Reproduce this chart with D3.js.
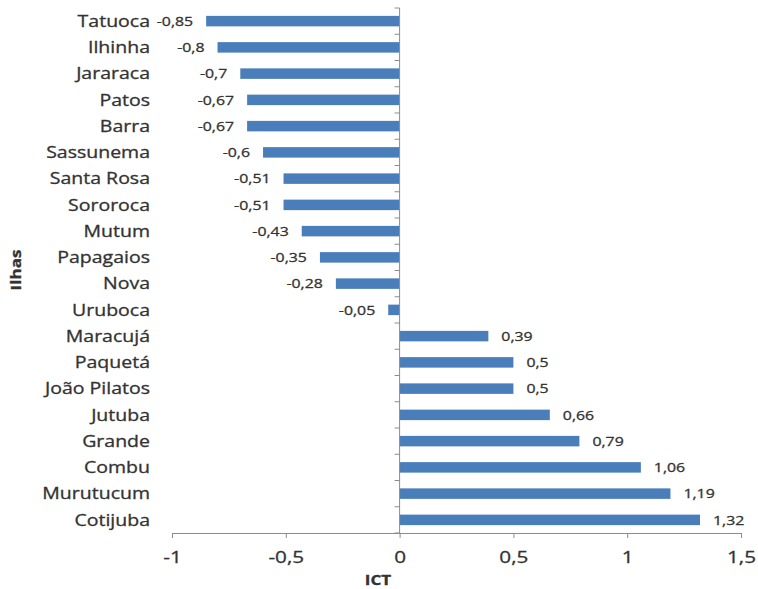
<!DOCTYPE html>
<html>
<head>
<meta charset="utf-8">
<script src="https://cdn.jsdelivr.net/npm/d3@7"></script>
<style>
  html, body { margin: 0; padding: 0; background: #fff; }
  svg { display: block; }
  text { font-family: "Open Sans", Lato, sans-serif; fill: #333; stroke: #333; stroke-width: 0.3px; }
</style>
</head>
<body>
<script>
const categories = ["Tatuoca","Ilhinha","Jararaca","Patos","Barra","Sassunema","Santa Rosa","Sororoca","Mutum","Papagaios","Nova","Uruboca","Maracujá","Paquetá","João Pilatos","Jutuba","Grande","Combu","Murutucum","Cotijuba"];
const values = [-0.85,-0.8,-0.7,-0.67,-0.67,-0.6,-0.51,-0.51,-0.43,-0.35,-0.28,-0.05,0.39,0.5,0.5,0.66,0.79,1.06,1.19,1.32];
const xTicks = [-1,-0.5,0,0.5,1,1.5];
const xTitle = "ICT";
const yTitle = "Ilhas";

const W = 758, H = 589;
const SX = 1.22; // horizontal stretch of the reference lettering
const fmt = v => String(v).replace(".", ",");

const svg = d3.select("body").append("svg").attr("width", W).attr("height", H);

const x = d3.scaleLinear().domain([-1, 1.5]).range([172, 741]);
const y = d3.scaleBand().domain(categories).range([8, 533]).paddingInner(0.6).paddingOuter(0.3);
const step = y.step();
const axisColor = "#8c8c8c";

// bars
svg.append("g").selectAll("rect").data(values).join("rect")
  .attr("x", d => x(Math.min(0, d)))
  .attr("width", d => Math.abs(x(d) - x(0)))
  .attr("y", (d, i) => y(categories[i]))
  .attr("height", y.bandwidth())
  .attr("fill", "#4a7ebb");

// y axis line with ticks between categories
const yAxisG = svg.append("g");
yAxisG.append("line")
  .attr("x1", x(0)).attr("x2", x(0))
  .attr("y1", y.range()[0]).attr("y2", y.range()[1])
  .attr("stroke", axisColor).attr("stroke-width", 1);
const boundaries = categories.map(c => y(c) - step * 0.3).concat([y(categories[categories.length - 1]) - step * 0.3 + step]);
yAxisG.selectAll("line.tk").data(boundaries).join("line").attr("class", "tk")
  .attr("x1", x(0) - 5).attr("x2", x(0))
  .attr("y1", d => d).attr("y2", d => d)
  .attr("stroke", axisColor);

// category labels
svg.append("g").selectAll("text").data(categories).join("text")
  .attr("transform", c => `translate(150,${y(c) + y.bandwidth() / 2}) scale(${SX},1)`)
  .attr("dy", "0.36em")
  .attr("text-anchor", "end")
  .style("font-size", "16px")
  .text(c => c);

// value labels
svg.append("g").selectAll("text").data(values).join("text")
  .attr("transform", (d, i) => `translate(${d < 0 ? x(d) - 13 : x(d) + 13},${y(categories[i]) + y.bandwidth() / 2}) scale(${SX},1)`)
  .attr("dy", "0.36em")
  .attr("text-anchor", d => d < 0 ? "end" : "start")
  .style("font-size", "13px")
  .text(d => fmt(d));

// x axis
const xAxis = d3.axisBottom(x).tickValues(xTicks).tickSize(5).tickSizeOuter(0).tickFormat(fmt);
const xg = svg.append("g").attr("transform", `translate(0,533)`).call(xAxis);
xg.select(".domain").attr("stroke", axisColor);
xg.selectAll(".tick line").attr("stroke", axisColor);
xg.selectAll(".tick text")
  .attr("y", 0).attr("dy", 0)
  .attr("transform", `translate(0,30) scale(${SX},1)`)
  .style("font-size", "17px").style("fill", "#333").style("stroke", "#333").style("stroke-width", "0.3px")
  .style("font-family", "'Open Sans', Lato, sans-serif");

// titles
svg.append("text").attr("transform", `translate(378,585) scale(${SX},1)`)
  .attr("text-anchor", "middle").style("font-size", "14px").style("font-weight", "bold")
  .text(xTitle);
svg.append("text").attr("transform", `translate(21,270) rotate(-90) scale(${SX},1)`)
  .attr("text-anchor", "middle").style("font-size", "14px").style("font-weight", "bold")
  .text(yTitle);
</script>
</body>
</html>
